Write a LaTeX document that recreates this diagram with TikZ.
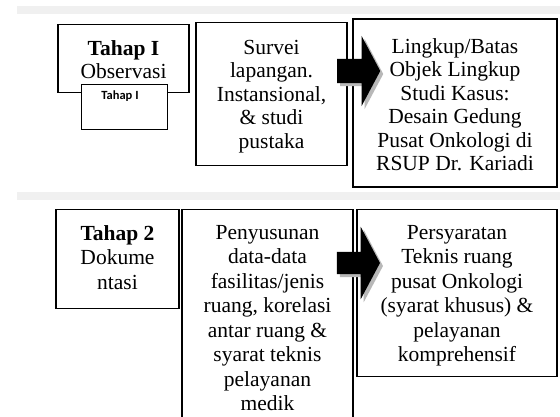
\documentclass[tikz,border=0pt]{standalone}
\usepackage{fontspec}
\setmainfont{Liberation Serif}
\newfontfamily\calibri{Carlito}
\usetikzlibrary{shapes.arrows,shadows}

\begin{document}
\begin{tikzpicture}[x=1pt,y=-1pt,
  box/.style={draw,line width=1.3pt,fill=white,inner sep=0pt,anchor=north},
  boxtext/.style={anchor=north,align=center,inner sep=0pt,
    font=\fontsize{21.5}{24.5}\selectfont},
  toptext/.style={boxtext,font=\fontsize{21.5}{23.5}\selectfont},
  band/.style={fill=black!6},
  blockarrow/.style={single arrow,fill=black,inner xsep=0pt,
    minimum height=43pt,single arrow tip angle=124,
    drop shadow={shadow xshift=3pt,shadow yshift=-3pt,fill=black!28,opacity=1}}]
\useasboundingbox (0,0) rectangle (560,417);
\clip (0,0) rectangle (560,417);

%% grey bands
\fill[band] (17,6) rectangle (560,14);
\fill[band] (17,192) rectangle (560,200);

%% Tahap I
\node[box,minimum width=131pt,minimum height=68pt] (obs) at (123.5,24) {};
\node[toptext] (obstext) at ([yshift=-16pt]obs.north) {\textbf{Tahap I}\\Observasi};
\node[box,line width=1pt,minimum width=86pt,minimum height=45pt] (tag) at (124,84) {};
\node[anchor=north,inner sep=0pt,font=\calibri\bfseries\fontsize{12.5}{14}\selectfont] (tagtext) at ([xshift=-4pt,yshift=-7pt]tag.north) {Tahap I};

\node[box,minimum width=151pt,minimum height=143pt] (survei) at (271.5,22) {};
\node[toptext] (surveitext) at ([yshift=-18pt]survei.north) {Survei\\lapangan.\\Instansional,\\\& studi\\pustaka};

\node[box,line width=2pt,minimum width=204pt,minimum height=168pt] (lingkup) at (455,18) {};
\node[toptext] (lingkuptext) at ([yshift=-20pt]lingkup.north) {Lingkup/Batas\\Objek Lingkup\\Studi Kasus:\\Desain Gedung\\Pusat Onkologi di\\RSUP Dr. Kariadi};

\node[blockarrow,inner ysep=12pt,single arrow head extend=23pt] (arr1) at (355.5,71) {};

%% Tahap 2
\node[box,minimum width=123pt,minimum height=99pt] (dok) at (117.5,209) {};
\node[boxtext] (doktext) at ([yshift=-16pt]dok.north) {\textbf{Tahap 2}\\Dokume\\ntasi};

\node[box,minimum width=171pt,minimum height=240pt] (susun) at (267.5,209) {};
\node[boxtext] (susuntext) at ([yshift=-16pt]susun.north) {Penyusunan\\data-data\\fasilitas/jenis\\ruang, korelasi\\antar ruang \&\\syarat teknis\\pelayanan\\medik};

\node[box,minimum width=200pt,minimum height=167pt] (syarat) at (457,209) {};
\node[boxtext] (syarattext) at ([yshift=-16pt]syarat.north) {Persyaratan\\Teknis ruang\\pusat Onkologi\\(syarat khusus) \&\\pelayanan\\komprehensif};

\node[blockarrow,inner ysep=11pt,single arrow head extend=25pt] (arr2) at (355.5,263) {};
\end{tikzpicture}
\end{document}
